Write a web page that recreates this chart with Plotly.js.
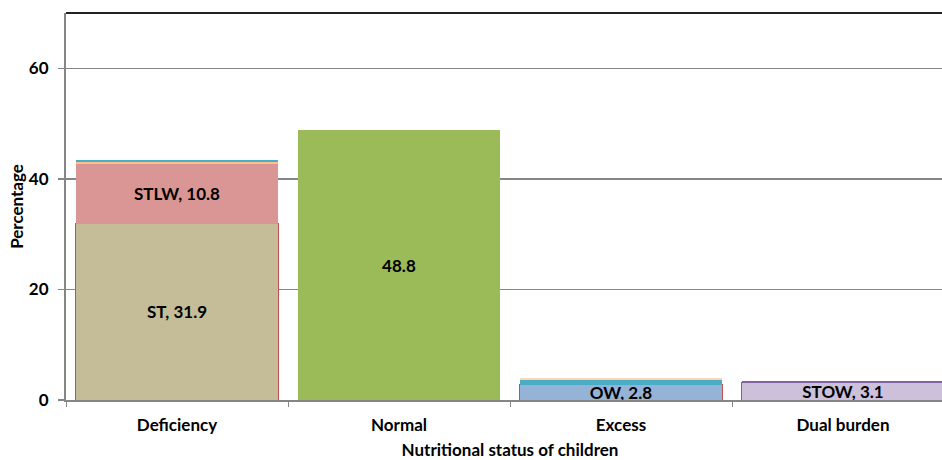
<!DOCTYPE html>
<html>
<head>
<meta charset="utf-8">
<script src="https://cdn.plot.ly/plotly-3.0.1.min.js"></script>
<style>
html,body{margin:0;padding:0;width:942px;height:460px;overflow:hidden;background:#fff;}
#chart{width:954px;height:460px;}
</style>
</head>
<body>
<div id="chart"></div>
<script>
// Data
const categories = ["Deficiency", "Normal", "Excess", "Dual burden"];
const stValues   = [31.9, null, null, null];
const stlwValues = [10.8, null, null, null];
const normalValues = [null, 48.8, null, null];
const owValues   = [null, null, 2.8, null];
const stowValues = [null, null, null, 3.1];
const lwValues   = [0.4, null, null, null];
const tealValues = [0.4, null, 0.8, null];
const peachTopValues = [null, null, 0.3, null];
const purpleTopValues = [null, null, null, 0.3];
const stLabels   = ["ST, 31.9", "", "", ""];
const stlwLabels = ["STLW, 10.8", "", "", ""];
const normalLabels = ["", "48.8", "", ""];
const owLabels   = ["", "", "OW, 2.8", ""];
const stowLabels = ["", "", "", "STOW, 3.1"];

const FONT = "Lato, 'Open Sans', sans-serif";
const FS = 17;
const labelFont = {family: FONT, size: FS, color: "#000", weight: "bold"};

function bar(name, y, color, text, lineColor) {
  return {
    type: "bar", name: name, x: categories, y: y,
    marker: {color: color, line: {color: lineColor || color, width: lineColor ? 1 : 0}},
    text: text || null,
    textposition: text ? "inside" : "none",
    insidetextanchor: "middle",
    constraintext: "none",
    textfont: labelFont,
    hoverinfo: "x+y+name",
    width: 0.91
  };
}

const traces = [
  bar("ST", stValues, "#C4BD97", stLabels, "#C0504D"),
  bar("STLW", stlwValues, "#D99694", stlwLabels),
  bar("Normal", normalValues, "#9BBB59", normalLabels),
  bar("OW", owValues, "#95B3D7", owLabels, "#C0504D"),
  bar("STOW", stowValues, "#CCC0DA", stowLabels, "#C0504D"),
  bar("LW", lwValues, "#FAC090"),
  bar("Other", tealValues, "#4BACC6"),
  bar("Other 2", peachTopValues, "#FCD5B5"),
  bar("Other 3", purpleTopValues, "#8064A2")
];

const layout = {
  width: 954, height: 460,
  margin: {l: 66, r: 0, t: 13, b: 60},
  barmode: "stack",
  bargap: 0.09,
  showlegend: false,
  paper_bgcolor: "#fff", plot_bgcolor: "#fff",
  font: {family: FONT, size: FS, color: "#000"},
  xaxis: {
    type: "category",
    tickson: "boundaries",
    ticks: "outside", ticklen: 5, tickcolor: "#868686", tickwidth: 1,
    showline: true, linecolor: "#868686", linewidth: 2,
    showgrid: false,
    tickfont: {family: FONT, size: FS, color: "#000", weight: "bold"},
    ticklabelstandoff: 9,
    title: {text: "Nutritional status of children", font: {family: FONT, size: FS, color: "#000", weight: "bold"}, standoff: 13}
  },
  yaxis: {
    range: [0, 70], dtick: 20, tick0: 0,
    ticks: "outside", ticklen: 6, tickcolor: "#868686", tickwidth: 1.5,
    showline: true, linecolor: "#868686", linewidth: 2,
    showgrid: true, gridcolor: "#868686", gridwidth: 1.5,
    zeroline: false,
    tickfont: {family: FONT, size: FS, color: "#000", weight: "bold"},
    ticklabelstandoff: 6,
    title: {text: "Percentage", font: {family: FONT, size: FS, color: "#000", weight: "bold"}, standoff: 1}
  },
  shapes: [
    {type: "line", xref: "paper", yref: "paper", x0: 0, x1: 1, y0: 1, y1: 1, line: {color: "#222", width: 2}}
  ]
};

Plotly.newPlot("chart", traces, layout, {displayModeBar: false, staticPlot: true});
</script>
</body>
</html>
